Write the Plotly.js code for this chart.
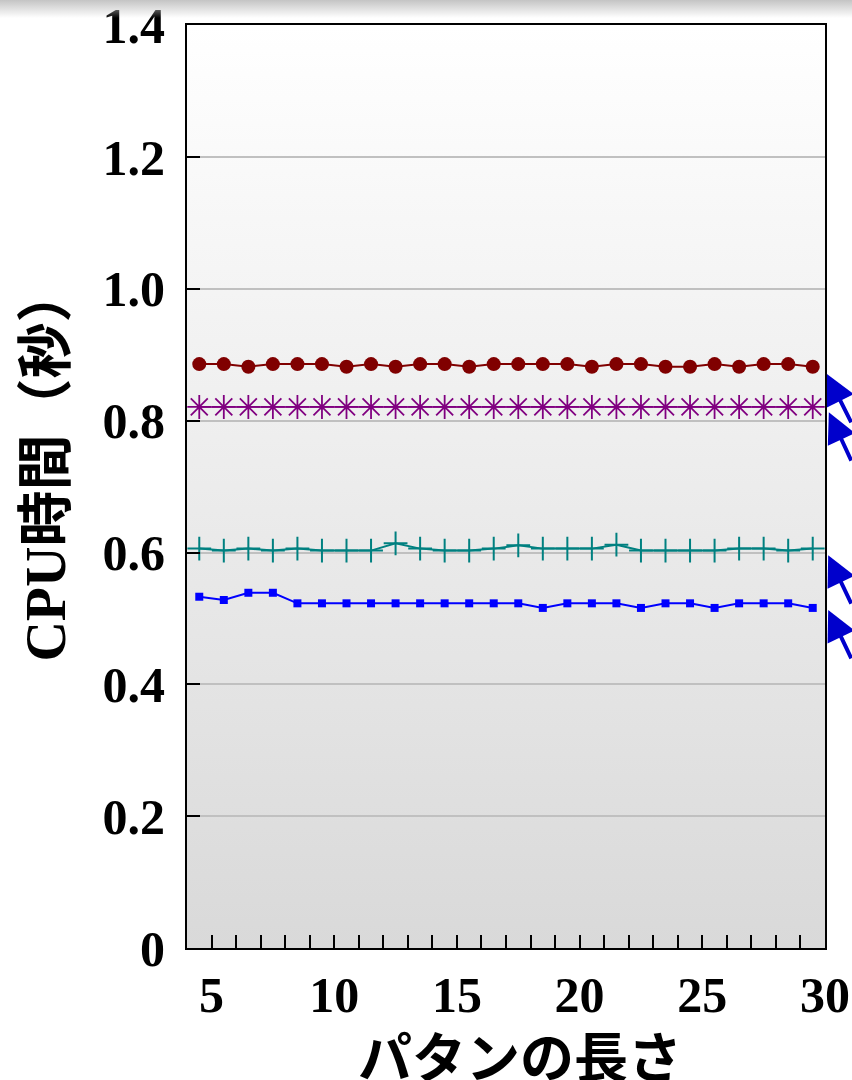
<!DOCTYPE html>
<html>
<head>
<meta charset="utf-8">
<script src="https://cdn.plot.ly/plotly-3.0.1.min.js"></script>
<style>
  html, body { margin: 0; padding: 0; background: #ffffff; }
  #wrap { position: relative; width: 852px; height: 1080px; overflow: hidden; }
  #bg { position: absolute; background: linear-gradient(to bottom, #ffffff 0%, #d9d9d9 100%); }
  #chart { position: absolute; left: 0; top: 0; width: 852px; height: 1080px; }
  #shade { position: absolute; left: 0; top: 0; width: 852px; height: 18px;
           background: linear-gradient(to bottom, #c4c4c4 0%, rgba(255,255,255,0) 100%);
           pointer-events: none; }
</style>
</head>
<body>
<div id="wrap">
  <div id="bg"></div>
  <div id="chart"></div>
  <div id="shade"></div>
</div>
<script>
// Pattern length (categories)
const patternLength = [5,6,7,8,9,10,11,12,13,14,15,16,17,18,19,20,21,22,23,24,25,26,27,28,29,30];

// CPU time (seconds)
const seriesRed = [0.886,0.886,0.882,0.886,0.886,0.886,0.882,0.886,0.882,0.886,0.886,0.882,0.886,
                   0.886,0.886,0.886,0.882,0.886,0.886,0.882,0.882,0.886,0.882,0.886,0.886,0.882];
const seriesPurple = [0.821,0.821,0.821,0.821,0.821,0.821,0.821,0.821,0.821,0.821,0.821,0.821,0.821,
                      0.821,0.821,0.821,0.821,0.821,0.821,0.821,0.821,0.821,0.821,0.821,0.821,0.821];
const seriesTeal = [0.606,0.603,0.606,0.603,0.606,0.603,0.603,0.603,0.614,0.606,0.603,0.603,0.606,
                    0.611,0.606,0.606,0.606,0.612,0.603,0.603,0.603,0.603,0.606,0.606,0.603,0.606];
const seriesBlue = [0.533,0.528,0.539,0.539,0.523,0.523,0.523,0.523,0.523,0.523,0.523,0.523,0.523,
                    0.523,0.516,0.523,0.523,0.523,0.516,0.523,0.523,0.516,0.523,0.523,0.523,0.516];

// Axis ticks
const yTickVals = [0,0.2,0.4,0.6,0.8,1.0,1.2,1.4];
const yTickText = ['0','0.2','0.4','0.6','0.8','1.0','1.2','1.4'];
const xTickLabels = ['5','10','15','20','25','30'];
const xTickVals = [5.5,10.5,15.5,20.5,25.5,30.5];

// Arrow pointers at right edge (y in data units)
const arrowY = [0.871,0.813,0.596,0.513];
const arrowX = [1.003,1.006,1.005,1.005];

const serif = "'Liberation Serif', 'Times New Roman', serif";
const cjk = "'Liberation Serif', 'Noto Sans CJK JP', sans-serif";

const traces = [
  {x: patternLength, y: seriesRed, type: 'scatter', mode: 'lines+markers',
   line: {color: '#800000', width: 2},
   marker: {symbol: 'circle', size: 14, color: '#800000'}},
  {x: patternLength, y: seriesPurple, type: 'scatter', mode: 'lines+markers',
   line: {color: '#800080', width: 1.5},
   marker: {symbol: 'asterisk-open', size: 20, color: '#800080', line: {color: '#800080', width: 1.8}}},
  {x: patternLength, y: seriesTeal, type: 'scatter', mode: 'lines+markers',
   line: {color: '#008080', width: 2},
   marker: {symbol: 'cross-thin-open', size: 17, color: '#008080', line: {color: '#008080', width: 2}}},
  {x: patternLength, y: seriesBlue, type: 'scatter', mode: 'lines+markers',
   line: {color: '#0000ff', width: 2},
   marker: {symbol: 'square', size: 8, color: '#0000ff'}}
];

const annotations = arrowY.map((v, i) => ({
  xref: 'paper', yref: 'y', x: arrowX[i], y: v, text: '',
  showarrow: true, arrowhead: 2, arrowsize: 1.5, arrowwidth: 4,
  arrowcolor: '#0000cc', ax: 40, ay: 50
}));

annotations.push({
  xref: 'paper', yref: 'paper', x: 0.522, y: -0.115, xanchor: 'center', yanchor: 'middle',
  text: 'パタンの長さ', showarrow: false,
  font: {family: "'Noto Sans CJK JP', sans-serif", size: 54, color: '#000000', weight: 'bold'}
});
annotations.push({
  xref: 'paper', yref: 'paper', x: -0.2216, y: 0.5244, xanchor: 'center', yanchor: 'middle',
  text: 'CPU時間（秒）', textangle: -90, showarrow: false,
  font: {family: cjk, size: 56, color: '#000000', weight: 'bold'}
});

const layout = {
  width: 852, height: 1080,
  margin: {l: 186.5, r: 27, t: 25, b: 132, pad: 0},
  paper_bgcolor: 'rgba(0,0,0,0)',
  plot_bgcolor: 'rgba(0,0,0,0)',
  showlegend: false,
  xaxis: {
    type: 'linear', range: [4.5, 30.5], fixedrange: true,
    tickmode: 'array', tickvals: xTickVals, ticktext: xTickLabels,
    ticks: 'inside', ticklen: 13, tickwidth: 2, tickcolor: '#000000',
    minor: {ticks: 'inside', ticklen: 13, tickwidth: 2, tickcolor: '#000000', tick0: 0.5, dtick: 1, showgrid: false},
    showgrid: false, zeroline: false,
    showline: true, mirror: true, linecolor: '#000000', linewidth: 2,
    ticklabelstandoff: 2, ticklabeloverflow: 'allow',
    tickfont: {family: serif, size: 50, color: '#000000', weight: 'bold'}
  },
  yaxis: {
    range: [0, 1.4005], fixedrange: true,
    tickmode: 'array', tickvals: yTickVals, ticktext: yTickText,
    ticks: 'inside', ticklen: 13, tickwidth: 2, tickcolor: '#000000',
    showgrid: true, gridcolor: '#c0c0c0', gridwidth: 2, zeroline: false,
    showline: true, mirror: true, linecolor: '#000000', linewidth: 2,
    ticklabelstandoff: 10, ticklabeloverflow: 'allow',
    tickfont: {family: serif, size: 50, color: '#000000', weight: 'bold'}
  },
  annotations: annotations
};

Plotly.newPlot('chart', traces, layout, {displayModeBar: false, staticPlot: true}).then(gd => {
  const s = gd._fullLayout._size;
  const bg = document.getElementById('bg');
  bg.style.left = s.l + 'px';
  bg.style.top = s.t + 'px';
  bg.style.width = s.w + 'px';
  bg.style.height = s.h + 'px';
});
</script>
</body>
</html>
